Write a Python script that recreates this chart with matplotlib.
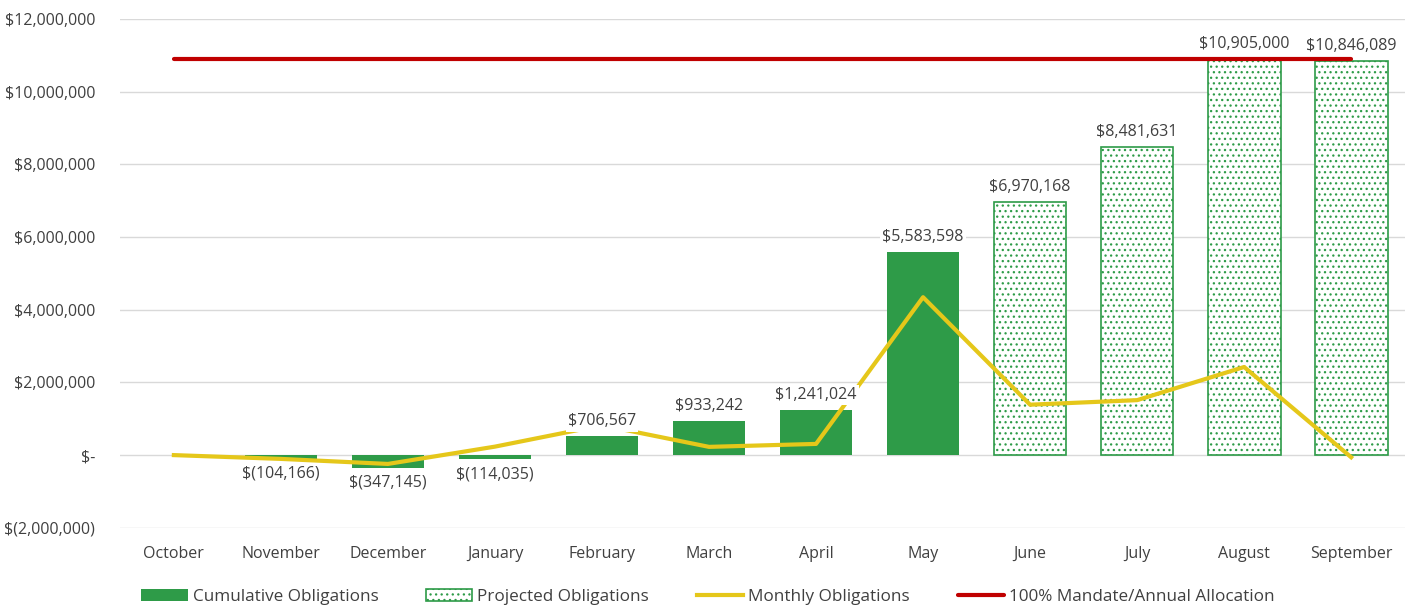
import matplotlib.pyplot as plt
import matplotlib.ticker as mticker
import numpy as np

plt.rcParams['font.family'] = ['Open Sans', 'DejaVu Sans']
plt.rcParams['hatch.linewidth'] = 0.9

months = ['October', 'November', 'December', 'January', 'February', 'March',
          'April', 'May', 'June', 'July', 'August', 'September']
cumulative = [0, -104166, -347145, -114035, 520000, 933242, 1241024, 5583598,
              None, None, None, None]
projected = [None, None, None, None, None, None, None, None,
             6970168, 8481631, 10905000, 10846089]
bar_labels = ['', '$(104,166)', '$(347,145)', '$(114,035)', '$706,567', '$933,242',
              '$1,241,024', '$5,583,598', '$6,970,168', '$8,481,631',
              '$10,905,000', '$10,846,089']
monthly = [0, -104166, -242979, 233110, 820602, 226675, 307782, 4342574,
           1386570, 1511463, 2423369, -58911]
mandate = 10905000

green = '#2E9B48'
yellow = '#E5C71A'
red = '#C00000'
txt = '#404040'

x = np.arange(len(months))

fig = plt.figure(figsize=(14.16, 6.06), dpi=100)
ax = fig.add_axes([0.085, 0.129, 0.907, 0.84])

cum_mask = np.array([v is not None for v in cumulative])
proj_mask = np.array([v is not None for v in projected])
cum_vals = np.array([v if v is not None else 0 for v in cumulative], dtype=float)
proj_vals = np.array([v if v is not None else 0 for v in projected], dtype=float)

b1 = ax.bar(x[cum_mask], cum_vals[cum_mask], width=0.68, color=green, zorder=2,
            label='Cumulative Obligations')
b2 = ax.bar(x[proj_mask], proj_vals[proj_mask], width=0.68, facecolor='white',
            edgecolor=green, hatch='...', linewidth=1.2, zorder=2,
            label='Projected Obligations')
l1, = ax.plot(x, monthly, color=yellow, lw=3, zorder=3, label='Monthly Obligations')
l2, = ax.plot([x[0], x[-1]], [mandate, mandate], color=red, lw=3, zorder=3,
              solid_capstyle='round', label='100% Mandate/Annual Allocation')

for i in range(len(months)):
    v = cum_vals[i] if cum_mask[i] else proj_vals[i]
    if not bar_labels[i]:
        continue
    if v > 0:
        off, va = 5, 'bottom'
    else:
        off, va = -5, 'top'
    ax.annotate(bar_labels[i], (x[i], v), xytext=(0, off), textcoords='offset points',
                ha='center', va=va, fontsize=11.5, color=txt, zorder=5,
                bbox=dict(boxstyle='square,pad=0.15', fc='white', ec='none'))


def yfmt(v, pos):
    if v == 0:
        return '$-'
    if v < 0:
        return '$({:,.0f})'.format(-v)
    return '${:,.0f}'.format(v)


ax.set_ylim(-2000000, 12000000)
ax.set_xlim(-0.5, len(months) - 0.5)
ax.yaxis.set_major_locator(mticker.MultipleLocator(2000000))
ax.yaxis.set_major_formatter(mticker.FuncFormatter(yfmt))
ax.set_xticks(x)
ax.set_xticklabels(months)
ax.tick_params(axis='x', length=0, labelsize=11.5, colors=txt, pad=13)
ax.tick_params(axis='y', length=0, labelsize=11.5, colors=txt, pad=18)
ax.grid(axis='y', color='#D9D9D9', lw=1, zorder=0)
ax.set_axisbelow(True)
for s in ax.spines.values():
    s.set_visible(False)

fig.legend([b1, b2, l1, l2], [h.get_label() for h in [b1, b2, l1, l2]],
           loc='lower center', bbox_to_anchor=(0.5, -0.024), ncol=4, frameon=False,
           fontsize=12.3, labelcolor=txt, handlelength=2.7, handleheight=0.75,
           columnspacing=2.8, handletextpad=0.3)

fig.savefig('out.png', dpi=100)
